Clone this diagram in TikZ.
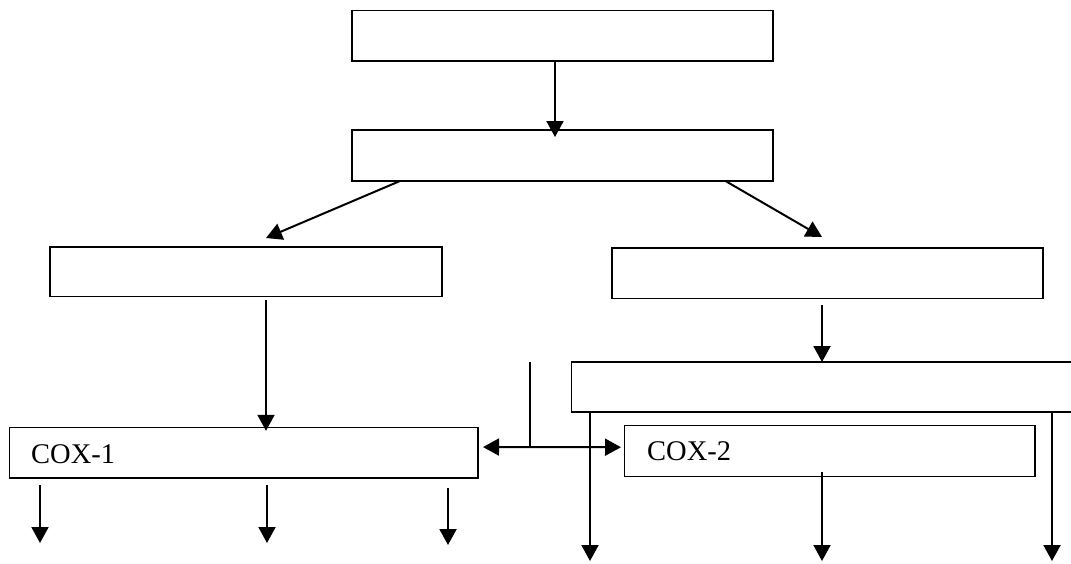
\documentclass[tikz,border=0pt]{standalone}
\usepackage{fontspec}
\setmainfont{Liberation Serif}
\usetikzlibrary{arrows.meta,calc}
\tikzset{
  boxnode/.style={draw=black,line width=1.6pt,fill=white,inner sep=0pt,outer sep=0pt,anchor=north west},
  arr/.style={line width=2pt,-{Triangle[length=16pt,width=17pt]}},
  darr/.style={line width=2pt,{Triangle[length=16pt,width=17pt]}-{Triangle[length=16pt,width=17pt]}},
  plain/.style={line width=2pt},
  lbl/.style={inner sep=0pt,anchor=base west,font=\fontsize{28.5}{30}\selectfont}
}
\begin{document}
\begin{tikzpicture}[x=1pt,y=-1pt]
\useasboundingbox (0,0) rectangle (1071,563);
\clip (0,0) rectangle (1071,563);
\fill[white] (0,0) rectangle (1071,563);
% boxes
\node[boxnode,minimum width=421pt,minimum height=50.5pt] (A) at (352,10.5) {};
\node[boxnode,minimum width=421pt,minimum height=51pt] (B) at (352,130) {};
\node[boxnode,minimum width=392pt,minimum height=49.5pt] (C) at (50,247) {};
\node[boxnode,minimum width=431pt,minimum height=50.5pt] (D) at (612,248) {};
\node[boxnode,minimum width=530pt,minimum height=50pt] (E) at (571.5,362) {};
\node[boxnode,minimum width=468.5pt,minimum height=50.7pt] (X1) at (9.5,427.3) {};
\node[boxnode,minimum width=410.5pt,minimum height=51pt] (X2) at (624.5,425.3) {};
% labels
\node[lbl] (L1) at (31,463.3) {COX-1};
\node[lbl] (L2) at (647,460.7) {COX-2};
% coordinates for free ends
\coordinate (j) at (530,362);
\coordinate (h) at (530,447);
\coordinate (o1) at (40,543);
\coordinate (o2) at (267,543);
\coordinate (o3) at (448,545);
\coordinate (o4) at (590,561);
\coordinate (o5) at (822,561);
\coordinate (o6) at (1052,561);
% connectors
\draw[arr] ($(A.south west)+(203,0)$) -- ($(B.north west)+(203,7)$);
\draw[arr] ($(B.south west)+(48,0)$) -- ($(C.north west)+(216,-9)$);
\draw[arr] ($(B.south west)+(373.5,0)$) -- ($(D.north west)+(210,-11)$);
\draw[arr] ($(C.south west)+(216,3.5)$) -- ($(X1.north west)+(256.5,3.5)$);
\draw[arr] ($(D.south west)+(210,6.5)$) -- ($(E.north west)+(250.5,0)$);
\draw[plain] (j) -- (h);
\draw[darr] ($(X1.east)+(5,-5.6)$) -- ($(X2.west)+(-3.5,-3.6)$);
\draw[arr] ($(E.south west)+(18.5,0)$) -- (o4);
\draw[arr] ($(X2.south west)+(197.5,-4.6)$) -- (o5);
\draw[arr] ($(E.south west)+(480.5,0)$) -- (o6);
\draw[arr] ($(X1.south west)+(30.5,7)$) -- (o1);
\draw[arr] ($(X1.south west)+(257.5,7)$) -- (o2);
\draw[arr] ($(X1.south west)+(438.5,10)$) -- (o3);
\end{tikzpicture}
\end{document}
